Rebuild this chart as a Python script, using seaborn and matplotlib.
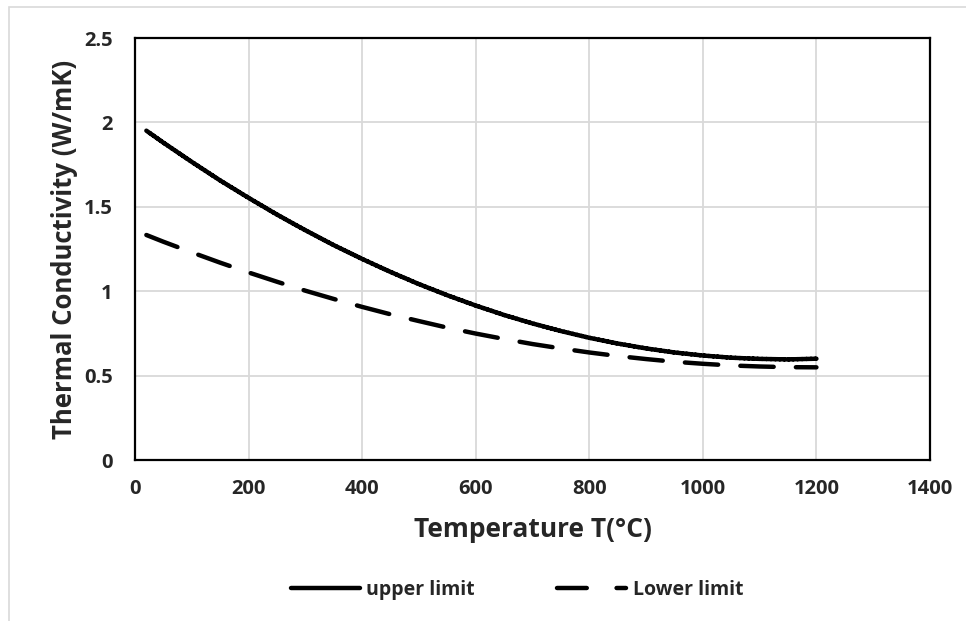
import matplotlib
matplotlib.use("Agg")
import matplotlib.pyplot as plt
import seaborn as sns
import pandas as pd
from matplotlib.lines import Line2D

temperature = [20, 50, 100, 150, 200, 250, 300, 350, 400, 450, 500, 550, 600, 650,
               700, 750, 800, 850, 900, 950, 1000, 1050, 1100, 1150, 1200]
upper_limit = [1.951, 1.880, 1.766, 1.656, 1.553, 1.454, 1.361, 1.273, 1.191, 1.114,
               1.042, 0.976, 0.915, 0.859, 0.809, 0.764, 0.724, 0.690, 0.661, 0.637,
               0.619, 0.606, 0.599, 0.596, 0.600]
lower_limit = [1.333, 1.293, 1.230, 1.169, 1.111, 1.056, 1.003, 0.954, 0.907, 0.863,
               0.823, 0.784, 0.749, 0.717, 0.687, 0.661, 0.637, 0.616, 0.598, 0.582,
               0.570, 0.560, 0.554, 0.550, 0.549]
series_names = ["upper limit", "Lower limit"]
x_ticks = [0, 200, 400, 600, 800, 1000, 1200, 1400]
y_ticks = [0, 0.5, 1, 1.5, 2, 2.5]
y_tick_labels = ["0", "0.5", "1", "1.5", "2", "2.5"]

df = pd.DataFrame({
    "T": temperature * 2,
    "k": upper_limit + lower_limit,
    "series": [series_names[0]] * len(temperature) + [series_names[1]] * len(temperature),
})

sns.set_theme(style="white")
plt.rcParams["font.family"] = ["Open Sans", "DejaVu Sans"]
plt.rcParams["font.weight"] = "bold"

fig = plt.figure(figsize=(9.66, 6.21), dpi=100)
fig.patches.append(plt.Rectangle((9 / 966, -0.01), 1.0, 1 - 7 / 621 + 0.01, transform=fig.transFigure,
                                 fill=False, edgecolor="#d9d9d9", linewidth=1.2))
ax = fig.add_axes([135 / 966, 1 - 460 / 621, (930 - 135) / 966, (460 - 38) / 621])

sns.lineplot(data=df, x="T", y="k", hue="series", style="series",
             palette=["black", "black"], dashes=[(1, 0), (7.5, 5)],
             linewidth=3.2, ax=ax, legend=False)
for ln in ax.get_lines():
    ln.set_solid_capstyle("round")
    ln.set_dash_capstyle("round")

ax.set_xlim(0, 1400)
ax.set_ylim(0, 2.5)
ax.set_xticks(x_ticks)
ax.set_yticks(y_ticks)
ax.set_yticklabels(y_tick_labels)
ax.grid(True, color="#d9d9d9", linewidth=1.3)
ax.set_axisbelow(True)
for s in ax.spines.values():
    s.set_color("black")
    s.set_linewidth(1.6)
ax.tick_params(axis="x", labelsize=14.5, length=0, pad=14)
ax.tick_params(axis="y", labelsize=14.5, length=0, pad=16)
for lab in ax.get_xticklabels() + ax.get_yticklabels():
    lab.set_fontweight("bold")
ax.set_xlabel("Temperature T(°C)", fontsize=19, fontweight="bold", labelpad=12)
ax.set_ylabel("Thermal Conductivity (W/mK)", fontsize=18.5, fontweight="bold", labelpad=4)

h_upper = Line2D([0], [0], color="black", lw=3.2, linestyle="-", solid_capstyle="round")
h_lower = Line2D([0], [0], color="black", lw=3.2, linestyle=(0, (6.7, 6.7)), dash_capstyle="round")
fig.legend([h_upper, h_lower], series_names, loc="center", bbox_to_anchor=(0.535, 1 - 590 / 621),
           ncol=2, frameon=False, handlelength=3.55, columnspacing=4.2,
           handletextpad=0.35, prop={"weight": "bold", "size": 14})

fig.savefig("out.png", dpi=100)
